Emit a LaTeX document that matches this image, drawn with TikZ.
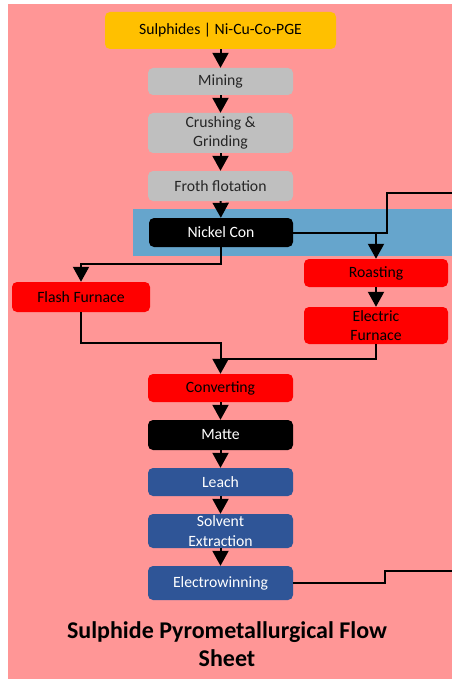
\documentclass[tikz,border=0pt]{standalone}
\usepackage{fontspec}
\setmainfont{Carlito}
\usetikzlibrary{arrows.meta}
\definecolor{bgpink}{HTML}{FF9696}
\definecolor{bandblue}{HTML}{66A5CC}
\definecolor{gold}{HTML}{FFC000}
\definecolor{greybox}{HTML}{BFBFBF}
\definecolor{redbox}{HTML}{FF0000}
\definecolor{bluebox}{HTML}{2F5597}
\tikzset{
  box/.style={rounded corners=5pt, inner sep=0pt, align=center,
    font=\fontsize{15.7}{19.5}\selectfont},
  greyb/.style={box, fill=greybox, text=black!85},
  redb/.style={box, fill=redbox, text=black},
  blackb/.style={box, fill=black, text=white},
  blueb/.style={box, fill=bluebox, text=white},
  line/.style={draw=black, line width=2pt},
  arr/.style={line, -{Triangle[width=16pt,length=15pt]}},
}
\begin{document}
\begin{tikzpicture}[x=1pt,y=-1pt]
\useasboundingbox (0,0) rectangle (452,679);
\fill[white] (0,0) rectangle (452,679);
\fill[bgpink] (8,4) rectangle (452,679);
\fill[bandblue] (133,209) rectangle (452,256);

\node[box, fill=gold, text=black, minimum width=231pt, minimum height=37pt] (sul) at (220.5,30.5) {Sulphides | Ni-Cu-Co-PGE};
\node[greyb, minimum width=145pt, minimum height=27pt] (min) at (220.5,81.5) {Mining};
\node[greyb, minimum width=145pt, minimum height=40pt] (cru) at (220.5,133) {Crushing \&\\Grinding};
\node[greyb, minimum width=145pt, minimum height=30pt] (fro) at (220.5,186) {Froth flotation};
\node[blackb, minimum width=144pt, minimum height=29pt] (nic) at (221,232.5) {Nickel Con};
\node[redb, minimum width=144pt, minimum height=28pt] (roa) at (376,273) {Roasting};
\node[redb, minimum width=138pt, minimum height=30pt] (fla) at (81,297) {Flash Furnace};
\node[redb, minimum width=144pt, minimum height=37pt] (ele) at (376,325.5) {Electric\\Furnace};
\node[redb, minimum width=145pt, minimum height=28pt] (con) at (220.5,388) {Converting};
\node[blackb, minimum width=145pt, minimum height=30pt] (mat) at (220.5,435) {Matte};
\node[blueb, minimum width=145pt, minimum height=28pt] (lea) at (220.5,482) {Leach};
\node[blueb, minimum width=145pt, minimum height=34pt] (sol) at (220.5,531) {Solvent\\Extraction};
\node[blueb, minimum width=145pt, minimum height=34pt] (ew) at (220.5,583) {Electrowinning};

\node[font=\fontsize{24}{28}\selectfont\bfseries, align=center, text=black] (title) at (227,644) {Sulphide Pyrometallurgical Flow\\Sheet};

\coordinate (out1) at (452,193);
\coordinate (out2) at (452,571);

\draw[arr] (sul) -- (min);
\draw[arr] (min) -- (cru);
\draw[arr] (cru) -- (fro);
\draw[arr] (fro) -- (nic);
\draw[arr] (nic.south) -- (nic.south |- 0,264) -| (fla.north);
\draw[line] (nic.east) -- (387,232.5) -- (387,193) -- (out1);
\draw[arr] (roa.north |- nic.east) -- (roa.north);
\draw[arr] (roa) -- (ele);
\draw[arr] (fla.south) -- (fla.south |- 0,343) -- (con.north |- 0,343) -- (con.north);
\draw[line] (ele.south) -- (ele.south |- 0,359) -- (con.north |- 0,359);
\draw[arr] (con) -- (mat);
\draw[arr] (mat) -- (lea);
\draw[arr] (lea) -- (sol);
\draw[arr] (sol) -- (ew);
\draw[line] (ew.east) -- (385,583) -- (385,571) -- (out2);
\end{tikzpicture}
\end{document}
